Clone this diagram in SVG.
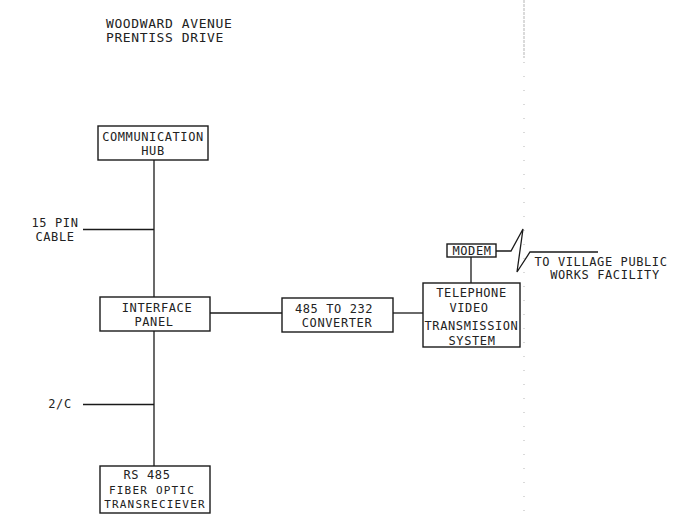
<svg xmlns="http://www.w3.org/2000/svg" width="686" height="517" viewBox="0 0 686 517">
  <style>
    .bg { fill: #ffffff; }
    .box { fill: #ffffff; stroke: #1a1a1a; stroke-width: 1.4; }
    .wire { fill: none; stroke: #1a1a1a; stroke-width: 1.3; }
    .t { font-family: "DejaVu Sans Mono", "Liberation Mono", monospace; font-size: 12px; letter-spacing: 0.6px; fill: #222; text-anchor: middle; }
    .s { font-size: 11px; letter-spacing: 1.2px; }
    .h { font-family: "DejaVu Sans Mono", "Liberation Mono", monospace; font-size: 13px; letter-spacing: 0.6px; fill: #222; }
    .edge { stroke: #b5b5b5; stroke-width: 1; fill: none; }
  </style>
  <rect class="bg" x="0" y="0" width="686" height="517"/>

  <g id="page-edge">
    <line class="edge" x1="524" y1="0" x2="524" y2="58" stroke-dasharray="3 1"/>
    <line class="edge" x1="524" y1="62" x2="524" y2="517" stroke-dasharray="1 13"/>
  </g>

  <g id="title">
    <text class="h" x="106" y="28">WOODWARD AVENUE</text>
    <text class="h" x="106" y="42">PRENTISS DRIVE</text>
  </g>

  <g id="connectors">
    <line class="wire" x1="154" y1="160" x2="154" y2="297"/>
    <line class="wire" x1="154" y1="331" x2="154" y2="467"/>
    <line class="wire" x1="83" y1="229.5" x2="154" y2="229.5"/>
    <line class="wire" x1="83" y1="404.5" x2="154" y2="404.5"/>
    <line class="wire" x1="210" y1="313" x2="282" y2="313"/>
    <line class="wire" x1="393" y1="313" x2="423" y2="313"/>
    <line class="wire" x1="471" y1="257" x2="471" y2="283"/>
    <polyline class="wire" points="496,251 511,251 523,229 517,272 530,252 598,252"/>
  </g>

  <g id="cable-15pin">
    <text class="t" x="55" y="227">15 PIN</text>
    <text class="t" x="55" y="241">CABLE</text>
  </g>

  <g id="cable-2c">
    <text class="t" x="60" y="408">2/C</text>
  </g>

  <g id="communication-hub">
    <rect class="box" x="98" y="126" width="110" height="34"/>
    <text class="t" x="153" y="141">COMMUNICATION</text>
    <text class="t" x="153" y="155">HUB</text>
  </g>

  <g id="interface-panel">
    <rect class="box" x="100" y="297" width="110" height="34"/>
    <text class="t" x="157" y="312">INTERFACE</text>
    <text class="t" x="154" y="326">PANEL</text>
  </g>

  <g id="converter">
    <rect class="box" x="282" y="298" width="111" height="34"/>
    <text class="t" x="334" y="313">485 TO 232</text>
    <text class="t" x="337" y="327">CONVERTER</text>
  </g>

  <g id="modem">
    <rect class="box" x="447" y="244" width="49" height="13"/>
    <text class="t" x="472" y="255">MODEM</text>
  </g>

  <g id="telephone-video">
    <rect class="box" x="423" y="283" width="97" height="64"/>
    <text class="t" x="471.5" y="297">TELEPHONE</text>
    <text class="t" x="469" y="312">VIDEO</text>
    <text class="t" x="471.5" y="330">TRANSMISSION</text>
    <text class="t" x="472" y="345">SYSTEM</text>
  </g>

  <g id="village-label">
    <text class="t" x="601" y="266">TO VILLAGE PUBLIC</text>
    <text class="t" x="605" y="279">WORKS FACILITY</text>
  </g>

  <g id="fiber-transceiver">
    <rect class="box" x="100" y="466" width="110" height="47"/>
    <text class="t" x="147" y="479">RS 485</text>
    <text class="t s" x="152" y="494">FIBER OPTIC</text>
    <text class="t s" x="155" y="508">TRANSRECIEVER</text>
  </g>
</svg>
